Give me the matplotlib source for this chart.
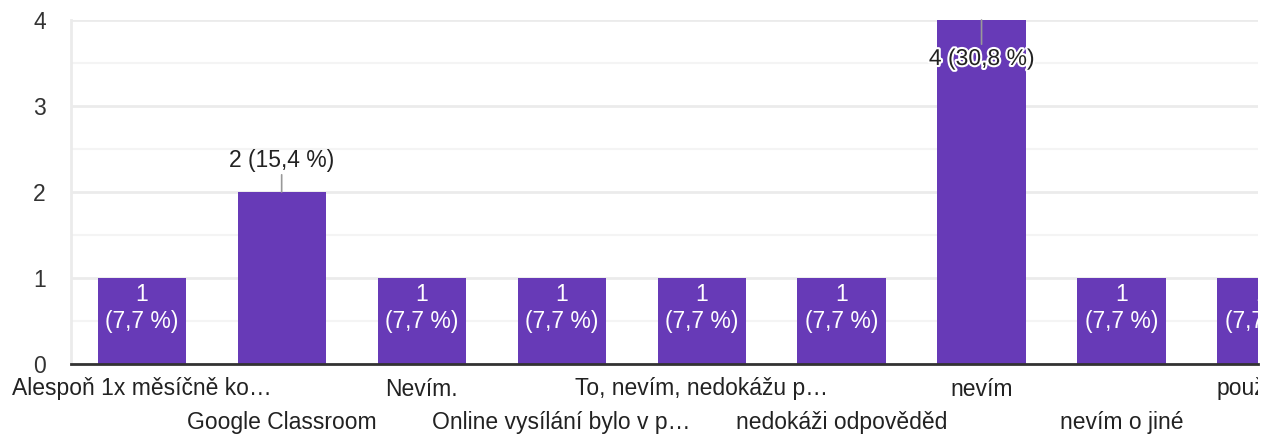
import matplotlib.pyplot as plt
import matplotlib.patheffects as pe
from matplotlib.transforms import Bbox, TransformedBbox, ScaledTranslation, blended_transform_factory

# data
kategorie = ['Alespoň 1x měsíčně ko…', 'Google Classroom', 'Nevím.',
             'Online vysílání bylo v p…', 'To, nevím, nedokážu p…',
             'nedokáži odpověděd', 'nevím', 'nevím o jiné', 'použív…']
pocty = [1, 2, 1, 1, 1, 1, 4, 1, 1]
procenta = ['7,7', '15,4', '7,7', '7,7', '7,7', '7,7', '30,8', '7,7', '7,7']

fialova = '#673ab7'
plt.rcParams['font.family'] = ['Liberation Sans', 'DejaVu Sans']
fs = 16.5

fig = plt.figure(figsize=(12.75, 4.34), dpi=100)
ax = fig.add_axes([71 / 1275, 1 - 364 / 434, (1258 - 71) / 1275, (364 - 20) / 434])

x = list(range(len(kategorie)))
ax.bar(x, pocty, width=0.63, color=fialova, zorder=3)

ax.set_xlim(-0.505, 7.975)
ax.set_ylim(0, 4)
ax.set_yticks([0, 1, 2, 3, 4])
ax.set_yticks([0.5, 1.5, 2.5, 3.5], minor=True)
ax.set_xticks([])
ax.grid(True, which='major', axis='y', color='#ebebeb', linewidth=2, zorder=0)
ax.grid(True, which='minor', axis='y', color='#f4f4f4', linewidth=1.5, zorder=0)
ax.tick_params(axis='y', which='both', length=0, pad=18, labelsize=fs, labelcolor='#333333')

for s in ['top', 'right']:
    ax.spines[s].set_visible(False)
ax.spines['left'].set_color('#ebebeb')
ax.spines['left'].set_linewidth(2)
ax.spines['bottom'].set_color('#333333')
ax.spines['bottom'].set_linewidth(2)
ax.spines['bottom'].set_zorder(5)

# vse napravo od 1258 px je oriznute
orez = TransformedBbox(Bbox([[0, 0], [1258 / 1275, 1]]), fig.transFigure)

trans = blended_transform_factory(ax.transData, ax.transAxes)
for i, (k, n, p) in enumerate(zip(kategorie, pocty, procenta)):
    # popisky osy x ve dvou radcich
    yoff = -25 if i % 2 == 0 else -58
    t = ax.text(i, 0, k, ha='center', va='center', fontsize=fs, color='#222222',
                transform=trans + ScaledTranslation(0, yoff / 100, fig.dpi_scale_trans))
    t.set_clip_box(orez)
    t.set_clip_on(True)

    if n == 1:
        t = ax.text(i, n, f'{n}\n({p} %)', ha='center', va='top', fontsize=fs,
                    color='white', linespacing=1.2, zorder=4,
                    transform=ax.transData + ScaledTranslation(0, -5 / 100, fig.dpi_scale_trans))
    elif n == 2:
        t = ax.annotate(f'{n} ({p} %)', xy=(i, n), xytext=(0, 20), textcoords='offset pixels',
                        ha='center', va='bottom', fontsize=fs, color='#222222',
                        arrowprops=dict(arrowstyle='-', color='#999999', lw=1.2,
                                        shrinkA=0, shrinkB=0), zorder=4)
    else:
        t = ax.annotate(f'{n} ({p} %)', xy=(i, n), xytext=(0, -27), textcoords='offset pixels',
                        ha='center', va='top', fontsize=fs, color='#222222',
                        path_effects=[pe.withStroke(linewidth=3, foreground='white')],
                        arrowprops=dict(arrowstyle='-', color='#999999', lw=1.2,
                                        shrinkA=0, shrinkB=0), zorder=4)
    t.set_clip_box(orez)
    t.set_clip_on(True)

fig.savefig('out.png', dpi=100)
